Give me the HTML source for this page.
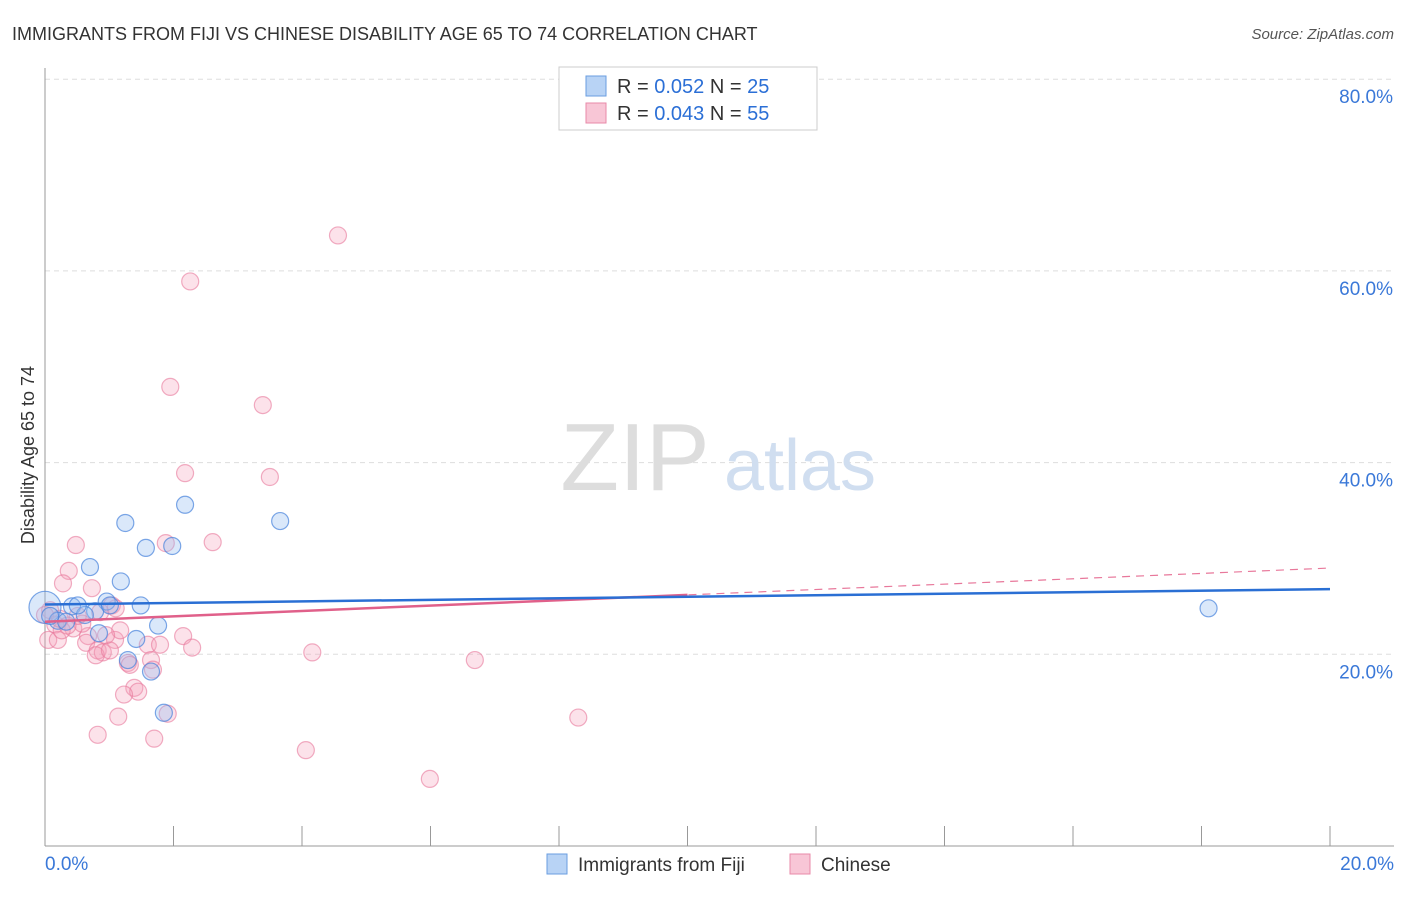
<!DOCTYPE html>
<html><head><meta charset="utf-8"><style>
body{margin:0;background:#fff;font-family:"Liberation Sans",sans-serif}
svg text{font-family:"Liberation Sans",sans-serif}
</style></head><body>
<svg width="1406" height="892" xmlns="http://www.w3.org/2000/svg">
<text x="12" y="40" font-size="18" fill="#333">IMMIGRANTS FROM FIJI VS CHINESE DISABILITY AGE 65 TO 74 CORRELATION CHART</text>
<text x="1394" y="39" font-size="15" fill="#555" font-style="italic" text-anchor="end">Source: ZipAtlas.com</text>
<g id="grid"></g>
<text x="635" y="490" font-size="96" font-family="Liberation Serif" fill="#ddd" text-anchor="middle">ZIP</text>
<text x="800" y="490" font-size="72" fill="#d0def0" text-anchor="middle">atlas</text>
<g id="pts"></g>
<g id="trend"></g>
<text transform="translate(34,455) rotate(-90)" font-size="18" fill="#333" text-anchor="middle">Disability Age 65 to 74</text>
<g>
<rect x="559" y="67" width="258" height="63" fill="#fff" stroke="#ccc"/>
<rect x="586" y="76" width="20" height="20" fill="#b8d3f5" stroke="#6a9ee0"/>
<rect x="586" y="103" width="20" height="20" fill="#f8c6d6" stroke="#e88aa8"/>
<text x="617" y="93" font-size="20" fill="#333">R = <tspan fill="#2b6fd6">0.052</tspan>   N = <tspan fill="#2b6fd6">25</tspan></text>
<text x="617" y="120" font-size="20" fill="#333">R = <tspan fill="#2b6fd6">0.043</tspan>   N = <tspan fill="#2b6fd6">55</tspan></text>
</g>
<g>
<rect x="547" y="854" width="20" height="20" fill="#b8d3f5" stroke="#6a9ee0"/>
<text x="578" y="871" font-size="19" fill="#333">Immigrants from Fiji</text>
<rect x="790" y="854" width="20" height="20" fill="#f8c6d6" stroke="#e88aa8"/>
<text x="821" y="871" font-size="19" fill="#333">Chinese</text>
</g>
</svg>
<script>
const yTicks=[20,40,60,80];
const yTickLabels=["20.0%","40.0%","60.0%","80.0%"];
const xTicks=[0,2,4,6,8,10,12,14,16,18,20];
const fijiX=[0,0.70,1.25,2.18,3.66,1.57,1.98,1.18,0.96,1.49,0.42,0.78,1.01,0.20,0.33,0.84,1.76,1.42,1.29,1.65,1.85,18.11,0.08,0.62,0.51];
const fijiY=[24.9,29.1,33.7,35.6,33.9,31.1,31.3,27.6,25.5,25.1,25.0,24.5,25.1,23.5,23.4,22.2,23.0,21.6,19.4,18.2,13.9,24.8,24.0,24.1,25.1];
const chX=[4.56,2.26,1.95,3.39,2.18,3.50,0.48,2.61,1.88,0.37,0.28,0.73,1.04,0.08,0.16,0.05,0.20,0.44,0.67,0.64,0.82,0.90,1.09,1.17,0.79,1.01,1.29,1.32,1.60,1.65,1.79,2.15,2.29,1.39,1.45,1.23,1.68,1.14,1.91,0.82,1.70,4.16,4.06,6.69,5.99,8.30,0.58,0,0.26,0.23,0.86,0.51,1.10,0.35,0.95];
const chY=[63.7,58.9,47.9,46.0,38.9,38.5,31.4,31.7,31.6,28.7,27.4,26.9,25.1,24.6,23.1,21.5,21.5,22.7,21.9,21.2,20.4,20.2,21.5,22.5,19.9,20.4,19.1,18.9,21.0,19.4,21.0,21.9,20.7,16.5,16.1,15.8,18.4,13.5,13.8,11.6,11.2,20.2,10.0,19.4,7.0,13.4,23.2,24.1,22.5,23.7,24.4,24.0,24.8,23.0,22.0];
const fijiTrend=[25.2,26.8];
const chTrend=[23.4,29.0];
const NS="http://www.w3.org/2000/svg";
const X=v=>45+v/20*1285, Y=v=>846-v/20*191.7;
function mk(t,a,p){const e=document.createElementNS(NS,t);for(const k in a)e.setAttribute(k,a[k]);p.appendChild(e);return e;}
const g=document.getElementById('grid');
yTicks.forEach((t,i)=>{
 const l=mk('line',{x1:45,x2:1394,y1:Y(t),y2:Y(t),stroke:'#ddd','stroke-dasharray':'5,4'},g);
 
 
 const tx=mk('text',{x:1393,y:Y(t)+24,'font-size':19,fill:'#3a78d8','text-anchor':'end'},g);
 tx.textContent=yTickLabels[i];
 
 
});
const ax=mk('line',{x1:45,x2:45,y1:68,y2:846,stroke:'#999'},g);


const bx=mk('line',{x1:45,x2:1394,y1:846,y2:846,stroke:'#999'},g);


xTicks.forEach(t=>{
 const l=mk('line',{x1:X(t),x2:X(t),y1:826,y2:846,stroke:'#999'},g);
 
 
});
[[0,'0.0%','start',45],[20,'20.0%','end',1394]].forEach(a=>{
 const tx=mk('text',{x:a[3],y:870,'font-size':19,fill:'#3a78d8','text-anchor':a[2]},g);
 tx.textContent=a[1];
 
 
});
const p=document.getElementById('pts');
chX.forEach((x,i)=>{
 const c=mk('circle',{cx:X(x),cy:Y(chY[i]),r:8.5,fill:'rgba(244,160,186,0.3)',stroke:'rgba(232,120,155,0.6)','stroke-width':1.2},p);
 
 
});
fijiX.forEach((x,i)=>{
 const c=mk('circle',{cx:X(x),cy:Y(fijiY[i]),r:i==0?16:8.5,fill:'rgba(150,190,240,0.35)',stroke:'rgba(70,130,220,0.7)','stroke-width':1.2},p);
 
 
});
const tr=document.getElementById('trend');
let l=mk('line',{x1:X(0),x2:X(20),y1:Y(chTrend[0]),y2:Y(chTrend[1]),stroke:'#e8789b','stroke-width':1.2,'stroke-dasharray':'8,6'},tr);


const mid=chTrend[0]+(chTrend[1]-chTrend[0])*0.5;
l=mk('line',{x1:X(0),x2:X(10),y1:Y(chTrend[0]),y2:Y(mid),stroke:'#e0608a','stroke-width':2.5},tr);


l=mk('line',{x1:X(0),x2:X(20),y1:Y(fijiTrend[0]),y2:Y(fijiTrend[1]),stroke:'#2a6fd4','stroke-width':2.5},tr);


</script>
</body></html>
